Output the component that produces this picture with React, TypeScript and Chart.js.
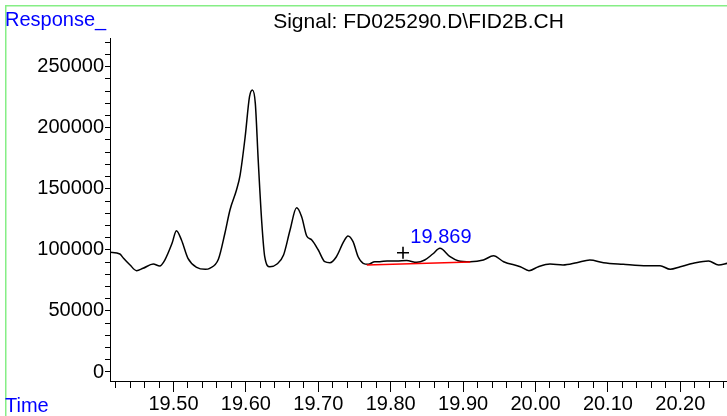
import React, { useEffect, useRef } from 'react';
import { Chart, registerables } from 'chart.js';

Chart.register(...registerables);

// ---- data ----
const times = [
  19.412, 19.426, 19.431, 19.440, 19.449, 19.458, 19.472, 19.481, 19.488, 19.498,
  19.504, 19.511, 19.520, 19.532, 19.544, 19.550, 19.562, 19.571, 19.578, 19.587,
  19.592, 19.599, 19.605, 19.609, 19.613, 19.617, 19.622, 19.626, 19.633, 19.643,
  19.652, 19.661, 19.670, 19.677, 19.684, 19.691, 19.700, 19.709, 19.716, 19.725,
  19.735, 19.741, 19.748, 19.755, 19.762, 19.769, 19.778, 19.785, 19.795, 19.808,
  19.822, 19.836, 19.847, 19.858, 19.868, 19.882, 19.893, 19.910, 19.928, 19.942,
  19.956, 19.979, 19.991, 20.004, 20.020, 20.038, 20.057, 20.075, 20.094, 20.121,
  20.154, 20.172, 20.186, 20.200, 20.218, 20.239, 20.253, 20.265,
];
const responses = [
  98000, 96600, 93100, 87600, 83000, 84900, 88400, 86800, 91700, 105400,
  115700, 108100, 93100, 85700, 84100, 84900, 92300, 113600, 132700, 149000,
  161300, 192700, 225400, 230900, 220000, 173600, 121800, 94400, 86200, 88400,
  95800, 116300, 134500, 127200, 111400, 108100, 99900, 90300, 89500, 94400,
  106700, 111400, 106700, 94400, 89000, 88200, 90300, 90300, 90900, 90900,
  91300, 89800, 91700, 96600, 101300, 94400, 91100, 90300, 91700, 95200,
  90300, 86200, 83000, 86200, 88400, 87600, 89500, 91700, 89500, 88200,
  87000, 87000, 84100, 86200, 89000, 90900, 87600, 89000,
];

const baselineTimes = [19.767, 19.910];
const baselineResponses = [87600, 90100];

const markerTimes = [19.817];
const markerResponses = [97700];

const peakLabel = '19.869';
const peakTime = 19.868;
const peakResponse = 101300;

const xTickLabels = ['19.50', '19.60', '19.70', '19.80', '19.90', '20.00', '20.10', '20.20'];
const yTickLabels = [0, 50000, 100000, 150000, 200000, 250000];

const titleText = 'Signal: FD025290.D\\FID2B.CH';
const yAxisText = 'Response_';
const xAxisText = 'Time';

const X_MIN = 19.4123;
const X_MAX = 20.2645;
const Y_MIN = -7370;
const Y_MAX = 273500;

const FONT = 'Liberation Sans, Arial, Helvetica, sans-serif';

const xTickValues: number[] = [];
for (let i = 0; i <= 42; i++) xTickValues.push(Math.round((19.42 + i * 0.02) * 100) / 100);
const yTickValues: number[] = [];
for (let i = 0; i <= 27; i++) yTickValues.push(i * 10000);

const isMajorX = (v: number) => xTickLabels.includes(v.toFixed(2));

const overlayPlugin = {
  id: 'overlay',
  afterDraw(chart: any) {
    const ctx = chart.ctx as CanvasRenderingContext2D;
    const { chartArea, scales } = chart;
    ctx.save();
    // green frame
    ctx.strokeStyle = '#86ee86';
    ctx.lineWidth = 1.5;
    ctx.beginPath();
    ctx.moveTo(5.75, chart.height);
    ctx.lineTo(5.75, 5.75);
    ctx.lineTo(chart.width, 5.75);
    ctx.stroke();

    // title
    ctx.fillStyle = '#000';
    ctx.font = `21px ${FONT}`;
    ctx.textAlign = 'center';
    ctx.textBaseline = 'alphabetic';
    ctx.fillText(titleText, (chartArea.left + chartArea.right) / 2, 28);

    // axis captions
    ctx.fillStyle = '#0000ff';
    ctx.font = `20px ${FONT}`;
    ctx.textAlign = 'left';
    ctx.fillText(yAxisText, 5, 26);
    ctx.fillText(xAxisText, 5, 412);

    // peak label
    const px = scales.x.getPixelForValue(peakTime);
    const py = scales.y.getPixelForValue(peakResponse);
    ctx.textAlign = 'center';
    ctx.fillText(peakLabel, px + 1, py - 5);
    ctx.restore();
  },
};

export default function App() {
  const canvasRef = useRef<HTMLCanvasElement | null>(null);

  useEffect(() => {
    document.body.style.margin = '0';
    const canvas = canvasRef.current;
    if (!canvas) return;

    const chart = new Chart(canvas, {
      type: 'line',
      data: {
        datasets: [
          {
            data: times.map((t, i) => ({ x: t, y: responses[i] })),
            borderColor: '#000',
            borderWidth: 1.5,
            pointRadius: 0,
            cubicInterpolationMode: 'monotone',
            fill: false,
            order: 2,
          },
          {
            data: baselineTimes.map((t, i) => ({ x: t, y: baselineResponses[i] })),
            borderColor: '#ff0000',
            borderWidth: 1.5,
            pointRadius: 0,
            fill: false,
            order: 1,
          },
          {
            data: markerTimes.map((t, i) => ({ x: t, y: markerResponses[i] })),
            showLine: false,
            pointStyle: 'cross',
            pointRadius: 6,
            pointBorderColor: '#000',
            pointBorderWidth: 1.6,
            borderColor: '#000',
            order: 0,
          },
        ],
      },
      options: {
        animation: false,
        responsive: false,
        maintainAspectRatio: false,
        layout: { autoPadding: false, padding: { top: 38, left: 0, right: 0, bottom: 0 } },
        plugins: {
          legend: { display: false },
          tooltip: { enabled: false },
          title: { display: false },
        },
        scales: {
          x: {
            type: 'linear',
            min: X_MIN,
            max: X_MAX,
            bounds: 'data',
            afterBuildTicks: (s: any) => {
              s.ticks = xTickValues.map((v) => ({ value: v }));
            },
            afterFit: (s: any) => {
              s.height = 35;
            },
            border: { display: true, color: '#000', width: 1 },
            grid: {
              drawOnChartArea: false,
              drawTicks: true,
              tickLength: 11,
              tickColor: '#000',
              tickWidth: 1,
              tickBorderDash: (c: any) => (c.tick && isMajorX(c.tick.value) ? [] : [6, 40]),
            },
            ticks: {
              autoSkip: false,
              maxRotation: 0,
              minRotation: 0,
              padding: 0,
              color: '#000',
              font: { family: FONT, size: 20 },
              callback: (v: any) => {
                const s = Number(v).toFixed(2);
                return xTickLabels.includes(s) ? s : '';
              },
            },
          },
          y: {
            type: 'linear',
            min: Y_MIN,
            max: Y_MAX,
            bounds: 'data',
            afterBuildTicks: (s: any) => {
              s.ticks = yTickValues.map((v) => ({ value: v }));
            },
            afterFit: (s: any) => {
              s.width = 110;
            },
            border: { display: true, color: '#000', width: 1 },
            grid: {
              drawOnChartArea: false,
              drawTicks: true,
              tickLength: 5,
              tickColor: '#000',
              tickWidth: 1,
            },
            ticks: {
              autoSkip: false,
              padding: 1,
              color: '#000',
              font: { family: FONT, size: 20 },
              callback: (v: any) => (yTickLabels.includes(Number(v)) ? String(v) : ''),
            },
          },
        },
      },
      plugins: [overlayPlugin],
    } as any);

    return () => {
      chart.destroy();
    };
  }, []);

  return (
    <div style={{ width: 727, height: 416, overflow: 'hidden', background: '#fff' }}>
      <canvas ref={canvasRef} width={727} height={416} style={{ display: 'block' }} />
    </div>
  );
}
